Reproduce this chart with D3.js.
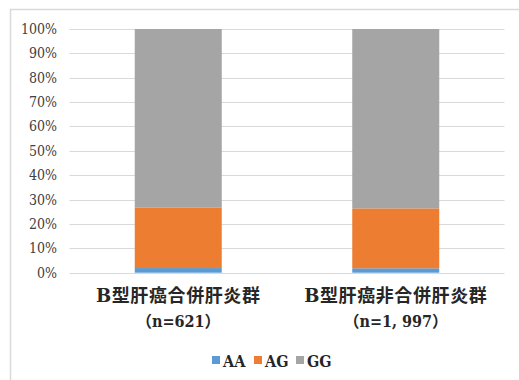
<!DOCTYPE html>
<html>
<head>
<meta charset="utf-8">
<script src="https://cdn.jsdelivr.net/npm/d3@7"></script>
<style>
  html, body { margin: 0; padding: 0; background: #fff; }
  svg { display: block; }
</style>
</head>
<body>
<svg id="chart" width="519" height="380"></svg>
<script>
// Genotype distribution (percent) per patient group
const categories = ["B型肝癌合併肝炎群", "B型肝癌非合併肝炎群"];
const sampleLabels = ["（n=621）", "（n=1, 997）"];
const genotypes = ["AA", "AG", "GG"];
const valuesAA = [1.9, 1.8];
const valuesAG = [24.9, 24.6];
const valuesGG = [73.2, 73.6];
const yTicks = [0, 10, 20, 30, 40, 50, 60, 70, 80, 90, 100];
const colors = ["#5b9bd5", "#ed7d31", "#a5a5a5"];

const rows = categories.map((c, i) => ({ cat: c, AA: valuesAA[i], AG: valuesAG[i], GG: valuesGG[i] }));

const svg = d3.select("#chart");

// outer chart frame
svg.append("rect")
  .attr("x", 10.5).attr("y", 9.5)
  .attr("width", 530).attr("height", 400)
  .attr("fill", "#fff").attr("stroke", "#d9d9d9").attr("stroke-width", 1.5);

const plot = { left: 69.5, right: 504.5, top: 29, bottom: 272.7 };

const x = d3.scaleBand().domain(categories).range([plot.left, plot.right]).paddingInner(0.6).paddingOuter(0.3);
const y = d3.scaleLinear().domain([0, 100]).range([plot.bottom, plot.top]);

// gridlines
svg.append("g").selectAll("line").data(yTicks).join("line")
  .attr("x1", plot.left).attr("x2", plot.right)
  .attr("y1", d => Math.round(y(d)) + 0.5).attr("y2", d => Math.round(y(d)) + 0.5)
  .attr("stroke", "#d9d9d9").attr("stroke-width", 1);

// y axis labels
const serif = "'DejaVu Serif Condensed', 'DejaVu Serif', serif";
const yAxis = d3.axisLeft(y).tickValues(yTicks).tickFormat(d => d + "%").tickSize(0).tickPadding(0);
const gy = svg.append("g").attr("transform", `translate(57,0)`).call(yAxis);
gy.select(".domain").remove();
gy.attr("font-family", null).attr("font-size", null);
gy.selectAll("text")
  .style("font-family", serif)
  .style("font-size", "14px")
  .style("font-weight", 300)
  .attr("fill", "#404040");

// stacked bars
const stack = d3.stack().keys(genotypes)(rows);
svg.append("g").selectAll("g").data(stack).join("g")
  .attr("fill", (d, i) => colors[i])
  .selectAll("rect").data(d => d).join("rect")
  .attr("x", d => x(d.data.cat))
  .attr("width", x.bandwidth())
  .attr("y", d => y(d[1]))
  .attr("height", d => y(d[0]) - y(d[1]));

// category labels
const catFont = "'DejaVu Serif', 'Noto Sans CJK JP', serif";
const subFont = "'DejaVu Serif Condensed', 'Noto Sans CJK JP', serif";
const gx = svg.append("g");
categories.forEach((c, i) => {
  const cx = x(c) + x.bandwidth() / 2;
  gx.append("text").attr("x", cx).attr("y", 302)
    .attr("text-anchor", "middle")
    .style("font-family", catFont).style("font-size", "18px").style("font-weight", "bold")
    .attr("fill", "#262626")
    .attr("letter-spacing", 0.6)
    .text(c);
  gx.append("text").attr("x", cx).attr("y", 327)
    .attr("text-anchor", "middle")
    .style("font-family", subFont).style("font-size", "16px").style("font-weight", "bold")
    .attr("fill", "#262626")
    .text(sampleLabels[i]);
});

// legend
const legendX = [212, 254, 296];
const lg = svg.append("g");
genotypes.forEach((g, i) => {
  lg.append("rect").attr("x", legendX[i]).attr("y", 356).attr("width", 8).attr("height", 8).attr("fill", colors[i]);
  lg.append("text").attr("x", legendX[i] + 11).attr("y", 367)
    .style("font-family", "'DejaVu Serif Condensed', 'DejaVu Serif', serif").style("font-size", "16px").style("font-weight", "bold")
    .attr("fill", "#262626").text(g);
});
</script>
</body>
</html>
